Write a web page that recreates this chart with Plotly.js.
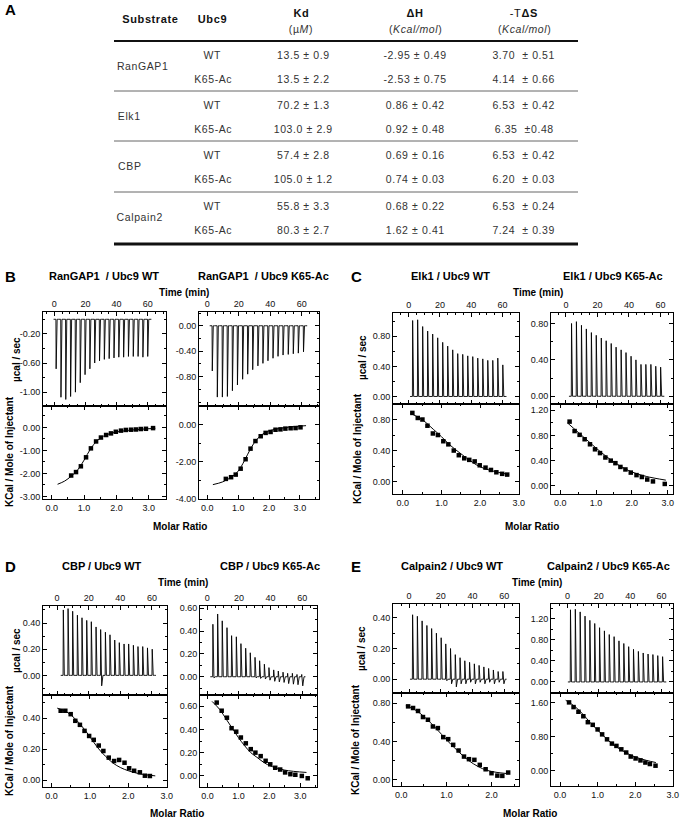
<!DOCTYPE html>
<html>
<head>
<meta charset="utf-8">
<script src="https://cdn.plot.ly/plotly-3.0.1.min.js"></script>
<style>
  html, body { margin: 0; padding: 0; background: #fff; }
  #fig { width: 685px; height: 819px; }
</style>
</head>
<body>
<div id="fig"></div>
<script>
// ---------- panel A : table values ----------
const substrates = ['RanGAP1', 'Elk1', 'CBP', 'Calpain2'];
const ubc9Forms = ['WT', 'K65-Ac'];
const kdValues = ['13.5 ± 0.9', '13.5 ± 2.2', '70.2 ± 1.3', '103.0 ± 2.9',
                  '57.4 ± 2.8', '105.0 ± 1.2', '55.8 ± 3.3', '80.3 ± 2.7'];
const dHValues = ['-2.95 ± 0.49', '-2.53 ± 0.75', '0.86 ± 0.42', '0.92 ± 0.48',
                  '0.69 ± 0.16', '0.74 ± 0.03', '0.68 ± 0.22', '1.62 ± 0.41'];
const tdSValues = ['3.70\u00a0 ± 0.51', '4.14\u00a0 ± 0.66', '6.53\u00a0 ± 0.42', '6.35\u00a0 ±0.48',
                   '6.53\u00a0 ± 0.42', '6.20\u00a0 ± 0.03', '6.53\u00a0 ± 0.24', '7.24\u00a0 ± 0.39'];

// ---------- raw ITC traces (injection time in min, peak in µcal/sec) ----------
const bWtTime = [1, 4.1, 7.2, 10.3, 13.4, 16.5, 19.6, 22.7, 25.8, 28.9, 32, 35.1, 38.2, 41.3, 44.4, 47.5, 50.6, 53.7, 56.8, 59.9];
const bWtPeak = [-0.68, -1.07, -1.10, -1.06, -1.00, -0.87, -0.76, -0.68, -0.60, -0.57, -0.55, -0.54, -0.53, -0.52, -0.52, -0.51, -0.51, -0.51, -0.52, -0.51];
const bAcTime = [3, 6.2, 9.4, 12.6, 15.8, 19, 22.3, 25.5, 28.7, 32, 35.2, 38.4, 41.6, 44.8, 48, 51.3, 54.5, 57.7, 61];
const bAcPeak = [-0.71, -1.12, -1.12, -1.11, -1.02, -0.93, -0.84, -0.76, -0.69, -0.63, -0.59, -0.55, -0.51, -0.48, -0.46, -0.45, -0.44, -0.43, -0.41];
const cWtTime = [2.4, 5.6, 8.8, 12, 15.2, 18.4, 21.6, 24.8, 28, 31.2, 34.4, 37.6, 40.8, 44, 47.2, 50.4, 53.6, 56.8, 60];
const cWtPeak = [1.01, 1.02, 0.93, 0.87, 0.83, 0.78, 0.72, 0.67, 0.62, 0.57, 0.56, 0.54, 0.53, 0.51, 0.50, 0.48, 0.48, 0.51, 0.42];
const cAcTime = [3.4, 6.5, 9.7, 12.8, 16, 19.1, 22.3, 25.4, 28.6, 31.7, 34.9, 38, 41.2, 44.3, 47.5, 50.6, 53.8, 56.9, 60];
const cAcPeak = [0.80, 0.82, 0.78, 0.74, 0.70, 0.67, 0.64, 0.61, 0.58, 0.54, 0.51, 0.48, 0.44, 0.40, 0.35, 0.35, 0.35, 0.33, 0.32];
const dWtTime = [3.8, 6.8, 9.7, 12.7, 15.6, 18.6, 21.5, 24.5, 27.4, 30.4, 33.3, 36.3, 39.2, 42.2, 45.1, 48.1, 51, 54, 57, 60];
const dWtPeak = [0.50, 0.51, 0.49, 0.46, 0.44, 0.42, 0.41, 0.37, 0.35, 0.33, 0.31, 0.27, 0.25, 0.24, 0.24, 0.23, 0.22, 0.22, 0.21, 0.20];
const dWtTail = [0, 0, 0, 0, 0, 0, 0, 0, -0.08, 0, 0, 0, 0, 0, 0, 0, 0, 0, 0, 0];
const dAcTime = [3.4, 6.4, 9.3, 12.3, 15.2, 18.2, 21.1, 24.1, 27, 30, 32.9, 35.9, 38.8, 41.8, 44.7, 47.7, 50.6, 53.6, 56.5, 59.5];
const dAcPeak = [0.46, 0.55, 0.49, 0.43, 0.36, 0.35, 0.29, 0.25, 0.21, 0.17, 0.14, 0.11, 0.08, 0.06, 0.05, 0.04, 0.03, 0.03, 0.02, 0.02];
const dAcTail = [-0.01, 0, 0, 0, 0, 0, 0, 0, 0, -0.01, -0.015, -0.02, -0.03, -0.04, -0.045, -0.05, -0.06, -0.065, -0.07, -0.08];
const eWtTime = [2.1, 5.1, 8.1, 11.1, 14.1, 17.1, 20.1, 23, 26, 29, 32, 35, 38, 41, 44, 47, 50, 53, 56, 59];
const eWtPeak = [0.42, 0.41, 0.38, 0.35, 0.33, 0.30, 0.27, 0.23, 0.20, 0.16, 0.14, 0.12, 0.11, 0.10, 0.09, 0.08, 0.07, 0.06, 0.05, 0.05];
const eWtTail = [0, 0, 0, 0, 0, 0, 0, -0.01, -0.03, -0.05, -0.03, -0.03, -0.02, -0.03, -0.02, -0.03, -0.02, -0.03, -0.02, -0.03];
const eAcTime = [1.7, 4.8, 7.9, 11, 14.1, 17.2, 20.3, 23.4, 26.5, 29.6, 32.7, 35.8, 38.9, 42, 45.1, 48.2, 51.3, 54.4, 57.5, 60.6];
const eAcPeak = [1.37, 1.38, 1.33, 1.25, 1.17, 1.11, 1.03, 0.97, 0.90, 0.86, 0.78, 0.73, 0.67, 0.62, 0.58, 0.55, 0.53, 0.52, 0.50, 0.48];

// ---------- integrated heats (molar ratio, kcal/mol of injectant) ----------
const bWtRatio = [0.6, 0.75, 0.9, 1.06, 1.21, 1.37, 1.52, 1.68, 1.83, 1.98, 2.14, 2.29, 2.45, 2.6, 2.75, 2.91, 3.13];
const bWtHeat = [-2.09, -1.94, -1.69, -1.30, -0.91, -0.61, -0.44, -0.33, -0.26, -0.19, -0.14, -0.11, -0.10, -0.09, -0.07, -0.06, -0.03];
const bWtFitX = [0.18, 0.4, 0.6, 0.8, 1.0, 1.2, 1.4, 1.6, 1.8, 2.0, 2.5, 3.2];
const bWtFitY = [-2.47, -2.33, -2.12, -1.85, -1.42, -0.93, -0.58, -0.38, -0.27, -0.2, -0.11, -0.04];
const bAcRatio = [0.6, 0.77, 0.92, 1.08, 1.24, 1.40, 1.56, 1.73, 1.89, 2.05, 2.21, 2.37, 2.53, 2.70, 2.86, 3.02];
const bAcHeat = [-2.92, -2.83, -2.69, -2.37, -1.86, -1.29, -0.88, -0.62, -0.44, -0.39, -0.27, -0.25, -0.21, -0.19, -0.18, -0.14];
const bAcFitX = [0.18, 0.5, 0.8, 1.0, 1.2, 1.4, 1.6, 1.8, 2.0, 2.5, 3.2];
const bAcFitY = [-3.23, -3.08, -2.8, -2.5, -1.95, -1.3, -0.8, -0.5, -0.33, -0.16, -0.05];
const cWtRatio = [0.25, 0.39, 0.51, 0.64, 0.78, 0.91, 1.05, 1.18, 1.32, 1.45, 1.59, 1.72, 1.86, 1.99, 2.14, 2.28, 2.42, 2.57, 2.70];
const cWtHeat = [0.885, 0.82, 0.80, 0.72, 0.62, 0.60, 0.52, 0.48, 0.40, 0.34, 0.30, 0.28, 0.26, 0.21, 0.18, 0.15, 0.12, 0.10, 0.09];
const cWtFitX = [0.2, 0.5, 0.8, 1.0, 1.2, 1.5, 1.8, 2.0, 2.3, 2.75];
const cWtFitY = [0.88, 0.80, 0.67, 0.58, 0.48, 0.36, 0.25, 0.19, 0.14, 0.09];
const cAcRatio = [0.26, 0.40, 0.54, 0.68, 0.83, 0.97, 1.11, 1.26, 1.41, 1.54, 1.68, 1.82, 1.97, 2.13, 2.28, 2.43, 2.59, 2.92];
const cAcHeat = [1.02, 0.87, 0.81, 0.74, 0.66, 0.58, 0.52, 0.45, 0.40, 0.36, 0.30, 0.26, 0.21, 0.17, 0.14, 0.10, 0.07, 0.03];
const cAcFitX = [0.2, 0.5, 0.8, 1.0, 1.3, 1.6, 2.0, 2.4, 2.95];
const cAcFitY = [1.0, 0.85, 0.70, 0.60, 0.46, 0.34, 0.22, 0.15, 0.09];
const dWtRatio = [0.24, 0.36, 0.50, 0.62, 0.74, 0.86, 0.98, 1.10, 1.23, 1.35, 1.49, 1.63, 1.76, 1.90, 2.02, 2.15, 2.30, 2.43, 2.56];
const dWtHeat = [0.448, 0.448, 0.426, 0.383, 0.357, 0.318, 0.285, 0.26, 0.223, 0.188, 0.145, 0.123, 0.13, 0.112, 0.076, 0.06, 0.05, 0.028, 0.026];
const dWtFitX = [0.15, 0.4, 0.6, 0.8, 1.0, 1.2, 1.4, 1.6, 1.8, 2.0, 2.3, 2.7];
const dWtFitY = [0.465, 0.44, 0.40, 0.345, 0.28, 0.21, 0.155, 0.11, 0.08, 0.06, 0.04, 0.027];
const dAcRatio = [0.30, 0.46, 0.63, 0.78, 0.93, 1.08, 1.24, 1.40, 1.55, 1.72, 1.88, 2.03, 2.19, 2.35, 2.51, 2.68, 2.84, 3.05, 3.24];
const dAcHeat = [0.63, 0.56, 0.50, 0.41, 0.38, 0.33, 0.28, 0.23, 0.20, 0.17, 0.13, 0.10, 0.07, 0.055, 0.03, 0.015, 0.01, 0.0, -0.02];
const dAcFitX = [0.15, 0.4, 0.6, 0.8, 1.0, 1.2, 1.4, 1.6, 1.8, 2.0, 2.5, 3.2];
const dAcFitY = [0.64, 0.57, 0.49, 0.41, 0.33, 0.26, 0.20, 0.16, 0.12, 0.09, 0.05, 0.03];
const eWtRatio = [0.15, 0.26, 0.37, 0.48, 0.59, 0.70, 0.81, 0.93, 1.04, 1.15, 1.27, 1.39, 1.50, 1.62, 1.74, 1.87, 2.0, 2.13, 2.24, 2.37];
const eWtHeat = [0.765, 0.748, 0.717, 0.654, 0.626, 0.556, 0.539, 0.445, 0.424, 0.365, 0.306, 0.243, 0.216, 0.209, 0.157, 0.111, 0.07, 0.045, 0.042, 0.077];
const eWtFitX = [0.1, 0.3, 0.5, 0.7, 0.9, 1.1, 1.3, 1.5, 1.7, 1.9, 2.1, 2.37];
const eWtFitY = [0.77, 0.73, 0.66, 0.57, 0.47, 0.37, 0.28, 0.20, 0.14, 0.10, 0.08, 0.065];
const eAcRatio = [0.24, 0.36, 0.49, 0.62, 0.74, 0.87, 1.0, 1.12, 1.25, 1.38, 1.50, 1.63, 1.76, 1.88, 2.01, 2.14, 2.27, 2.39, 2.54];
const eAcHeat = [1.60, 1.49, 1.38, 1.275, 1.136, 1.074, 0.966, 0.85, 0.734, 0.634, 0.58, 0.50, 0.425, 0.33, 0.286, 0.24, 0.19, 0.155, 0.116];
const eAcFitX = [0.15, 0.4, 0.6, 0.8, 1.0, 1.2, 1.4, 1.6, 1.8, 2.0, 2.3, 2.55];
const eAcFitY = [1.65, 1.50, 1.33, 1.13, 0.95, 0.78, 0.62, 0.50, 0.40, 0.32, 0.24, 0.19];

// ---------- geometry helpers ----------
const W = 685, H = 819;
const px = x => x / W;
const py = y => 1 - y / H;

const NARROW = 'Liberation Sans Narrow, Arial Narrow, Liberation Sans, Arial, sans-serif';
const SANS = 'Liberation Sans, Arial, sans-serif';
const tickFont = {family: NARROW, size: 9, color: '#111'};

function tickList(lo, hi, start, step) {
  const out = [];
  for (let v = start; v <= hi + 1e-6; v += step) {
    if (v >= lo - 1e-6) out.push(Math.round(v * 1000) / 1000);
  }
  return out;
}

function makeAxis(o) {
  const vals = tickList(o.range[0], o.range[1], o.start, o.step);
  return {
    domain: o.domain, range: o.range, anchor: o.anchor, side: o.side,
    showline: true, linecolor: '#000', linewidth: 1, mirror: 'ticks',
    ticks: 'inside', ticklen: 4, tickwidth: 1, tickcolor: '#000',
    tickmode: 'array', tickvals: vals, ticktext: vals.map(v => v.toFixed(o.dec)),
    showticklabels: o.labels !== false, tickfont: tickFont,
    minor: {ticks: 'inside', ticklen: 2, tickwidth: 1, tickcolor: '#000',
            tickmode: 'linear', tick0: o.start, dtick: o.minor, showgrid: false},
    showgrid: false, zeroline: false, fixedrange: true
  };
}

function rawLine(times, peaks, tails) {
  const x = [times[0] - 1.5], y = [0];
  times.forEach((t, i) => {
    const tail = tails ? tails[i] : 0;
    x.push(t, t + 0.15, t + 0.8, t + 1.6);
    y.push(0, peaks[i], tail, 0);
  });
  x.push(times[times.length - 1] + 2.5);
  y.push(0);
  return {x, y};
}

const panels = [
  {title: 'RanGAP1\u00a0 / Ubc9 WT', tx: 104, ty: 276, box: [43, 166], raw: [312, 406], int: [406, 499],
   time: bWtTime, peak: bWtPeak, tail: null, ratio: bWtRatio, heat: bWtHeat, fitX: bWtFitX, fitY: bWtFitY,
   tRange: [-7.3, 71.8], rRange: [-1.19, 0.10], rStart: -1.0, rStep: 0.4, rMinor: 0.2,
   mRange: [-0.27, 3.53], iRange: [-3.11, 0.93], iStart: -3, iStep: 1, iMinor: 0.5},
  {title: 'RanGAP1\u00a0 / Ubc9 K65-Ac', tx: 263, ty: 276, box: [199, 319], raw: [312, 406], int: [406, 499],
   time: bAcTime, peak: bAcPeak, tail: null, ratio: bAcRatio, heat: bAcHeat, fitX: bAcFitX, fitY: bAcFitY,
   tRange: [-5.3, 71], rRange: [-1.26, 0.216], rStart: -0.8, rStep: 0.4, rMinor: 0.2,
   mRange: [-0.27, 3.62], iRange: [-4.005, 1.01], iStart: -4, iStep: 2, iMinor: 1},
  {title: 'Elk1 / Ubc9 WT', tx: 450, ty: 276, box: [393, 519], raw: [313, 404], int: [404, 494],
   time: cWtTime, peak: cWtPeak, tail: null, ratio: cWtRatio, heat: cWtHeat, fitX: cWtFitX, fitY: cWtFitY,
   tRange: [-10, 70.5], rRange: [-0.10, 1.11], rStart: 0, rStep: 0.4, rMinor: 0.2,
   mRange: [-0.25, 3.005], iRange: [-0.16, 1.0], iStart: 0, iStep: 0.4, iMinor: 0.2},
  {title: 'Elk1 / Ubc9 K65-Ac', tx: 613, ty: 276, box: [551, 673], raw: [313, 404], int: [404, 494],
   time: cAcTime, peak: cAcPeak, tail: null, ratio: cAcRatio, heat: cAcHeat, fitX: cAcFitX, fitY: cAcFitY,
   tRange: [-9.5, 68], rRange: [-0.085, 0.915], rStart: 0, rStep: 0.4, rMinor: 0.2,
   mRange: [-0.26, 3.15], iRange: [-0.13, 1.30], iStart: 0, iStep: 0.4, iMinor: 0.2},
  {title: 'CBP / Ubc9 WT', tx: 102, ty: 566, box: [43, 167], raw: [606, 695], int: [695, 787],
   time: dWtTime, peak: dWtPeak, tail: dWtTail, ratio: dWtRatio, heat: dWtHeat, fitX: dWtFitX, fitY: dWtFitY,
   tRange: [-8.9, 69.5], rRange: [-0.15, 0.53], rStart: 0, rStep: 0.2, rMinor: 0.1,
   mRange: [-0.22, 3.005], iRange: [-0.045, 0.55], iStart: 0, iStep: 0.2, iMinor: 0.1},
  {title: 'CBP / Ubc9 K65-Ac', tx: 270, ty: 566, box: [200, 317], raw: [606, 695], int: [695, 787],
   time: dAcTime, peak: dAcPeak, tail: dAcTail, ratio: dAcRatio, heat: dAcHeat, fitX: dAcFitX, fitY: dAcFitY,
   tRange: [-4.6, 69.3], rRange: [-0.16, 0.62], rStart: 0, rStep: 0.2, rMinor: 0.1,
   mRange: [-0.24, 3.54], iRange: [-0.095, 0.695], iStart: 0, iStep: 0.2, iMinor: 0.1},
  {title: 'Calpain2 / Ubc9 WT', tx: 452, ty: 566, box: [393, 519], raw: [604, 693], int: [693, 786],
   time: eWtTime, peak: eWtPeak, tail: eWtTail, ratio: eWtRatio, heat: eWtHeat, fitX: eWtFitX, fitY: eWtFitY,
   tRange: [-10.1, 69.3], rRange: [-0.09, 0.49], rStart: 0, rStep: 0.2, rMinor: 0.1,
   mRange: [-0.185, 2.61], iRange: [-0.063, 0.904], iStart: 0, iStep: 0.4, iMinor: 0.2},
  {title: 'Calpain2 / Ubc9 K65-Ac', tx: 608, ty: 566, box: [551, 673], raw: [604, 693], int: [693, 786],
   time: eAcTime, peak: eAcPeak, tail: null, ratio: eAcRatio, heat: eAcHeat, fitX: eAcFitX, fitY: eAcFitY,
   tRange: [-10.6, 67.4], rRange: [-0.21, 1.48], rStart: 0, rStep: 0.4, rMinor: 0.2,
   mRange: [-0.24, 3.005], iRange: [-0.36, 1.82], iStart: 0, iStep: 0.8, iMinor: 0.4}
];

const traces = [];
const layout = {
  width: W, height: H, margin: {l: 0, r: 0, t: 0, b: 0},
  paper_bgcolor: '#fff', plot_bgcolor: 'rgba(0,0,0,0)',
  showlegend: false, annotations: [], shapes: []
};

function ann(text, x, y, o = {}) {
  layout.annotations.push(Object.assign({
    text, xref: 'paper', yref: 'paper', x: px(x), y: py(y),
    xanchor: 'center', yanchor: 'middle', showarrow: false,
    font: {family: SANS, size: 10.5, color: '#222'}
  }, o));
}

panels.forEach((p, i) => {
  const rn = 2 * i + 1, inn = 2 * i + 2;
  const xr = 'xaxis' + rn, yr = 'yaxis' + rn, xi = 'xaxis' + inn, yi = 'yaxis' + inn;
  const xdom = [px(p.box[0]), px(p.box[1])];
  layout[xr] = makeAxis({domain: xdom, range: p.tRange, anchor: 'y' + rn, side: 'top',
                         start: 0, step: 20, minor: 5, dec: 0});
  layout[yr] = makeAxis({domain: [py(p.raw[1]), py(p.raw[0])], range: p.rRange, anchor: 'x' + rn, side: 'left',
                         start: p.rStart, step: p.rStep, minor: p.rMinor, dec: 2});
  layout[xi] = makeAxis({domain: xdom, range: p.mRange, anchor: 'y' + inn, side: 'bottom',
                         start: 0, step: 1, minor: 0.5, dec: 1});
  layout[yi] = makeAxis({domain: [py(p.int[1]), py(p.int[0])], range: p.iRange, anchor: 'x' + inn, side: 'left',
                         start: p.iStart, step: p.iStep, minor: p.iMinor, dec: 2});

  const r = rawLine(p.time, p.peak, p.tail);
  traces.push({x: r.x, y: r.y, xaxis: 'x' + rn, yaxis: 'y' + rn, mode: 'lines',
               line: {color: '#000', width: 0.9}, hoverinfo: 'skip'});
  traces.push({x: p.fitX, y: p.fitY, xaxis: 'x' + inn, yaxis: 'y' + inn, mode: 'lines',
               line: {color: '#000', width: 1, shape: 'spline'}, hoverinfo: 'skip'});
  traces.push({x: p.ratio, y: p.heat, xaxis: 'x' + inn, yaxis: 'y' + inn, mode: 'markers',
               marker: {symbol: 'square', size: 4.5, color: '#000'}, hoverinfo: 'skip'});

  ann('<b>' + p.title + '</b>', p.tx, p.ty, {font: {family: NARROW, size: 11, color: '#000'}});
});

// panel letters
const boldLetter = {family: SANS, size: 15, color: '#000'};
ann('<b>A</b>', 10, 10, {font: boldLetter});
ann('<b>B</b>', 10, 276, {font: boldLetter});
ann('<b>C</b>', 356, 276, {font: boldLetter});
ann('<b>D</b>', 10, 566, {font: boldLetter});
ann('<b>E</b>', 356, 566, {font: boldLetter});

// shared axis labels
const axFont = {family: NARROW, size: 10, color: '#000'};
[[184, 292], [538, 292], [183, 582], [537, 582]].forEach(([x, y]) => ann('<b>Time (min)</b>', x, y, {font: axFont}));
[[180, 526], [532, 526], [177, 813], [530, 813]].forEach(([x, y]) => ann('<b>Molar Ratio</b>', x, y, {font: axFont}));
[[16, 359], [362, 358], [16, 650], [361, 648]].forEach(([x, y]) => ann('<b>µcal / sec</b>', x, y, {font: axFont, textangle: -90}));
[[9, 452], [357, 449], [9, 741], [355, 740]].forEach(([x, y]) => ann('<b>KCal / Mole of Injectant</b>', x, y, {font: axFont, textangle: -90}));

// ---------- panel A : table ----------
const tableStart = layout.annotations.length;
const tblL = 114, tblR = 578;
const hdrFont = {family: SANS, size: 11, color: '#111'};
const cellFont = {family: SANS, size: 10.5, color: '#333'};
ann('<b>Substrate</b>', 150, 19, {font: hdrFont});
ann('<b>Ubc9</b>', 213, 19, {font: hdrFont});
ann('<b>Kd</b>', 301, 13, {font: hdrFont});
ann('(µ<i>M</i>)', 301, 29, {font: cellFont});
ann('<b>ΔH</b>', 415, 13, {font: hdrFont});
ann('(<i>Kcal/mol</i>)', 415, 29, {font: cellFont});
ann('-T<b>ΔS</b>', 524, 13, {font: hdrFont});
ann('(<i>Kcal/mol</i>)', 524, 29, {font: cellFont});

const lineY = [41, 91, 141, 192, 244];
layout.shapes.push({type: 'line', xref: 'paper', yref: 'paper', x0: px(tblL), x1: px(tblR),
                    y0: py(lineY[0]), y1: py(lineY[0]), line: {color: '#111', width: 2}});
layout.shapes.push({type: 'line', xref: 'paper', yref: 'paper', x0: px(tblL), x1: px(tblR),
                    y0: py(lineY[4]), y1: py(lineY[4]), line: {color: '#111', width: 3}});
[1, 2, 3].forEach(k => layout.shapes.push({type: 'line', xref: 'paper', yref: 'paper',
  x0: px(tblL), x1: px(tblR), y0: py(lineY[k]), y1: py(lineY[k]), line: {color: '#666', width: 1}}));

substrates.forEach((s, i) => {
  const top = lineY[i];
  ann(s, 117, top + 25, {font: cellFont, xanchor: 'left'});
  ubc9Forms.forEach((f, j) => {
    const y = top + 14 + j * 24;
    const k = 2 * i + j;
    ann(f, 213, y, {font: cellFont});
    ann(kdValues[k], 303, y, {font: cellFont});
    ann(dHValues[k], 415, y, {font: cellFont});
    ann(tdSValues[k], 524, y, {font: cellFont});
  });
});

Plotly.newPlot('fig', traces, layout, {staticPlot: true, displayModeBar: false}).then(gd => {
  // the table in the figure is set with loose letter spacing
  gd.querySelectorAll('g.annotation').forEach(g => {
    const idx = +g.getAttribute('data-index');
    if (idx >= tableStart) {
      g.querySelectorAll('text').forEach(t => { t.style.letterSpacing = '0.6px'; });
    }
  });
});
</script>
</body>
</html>
